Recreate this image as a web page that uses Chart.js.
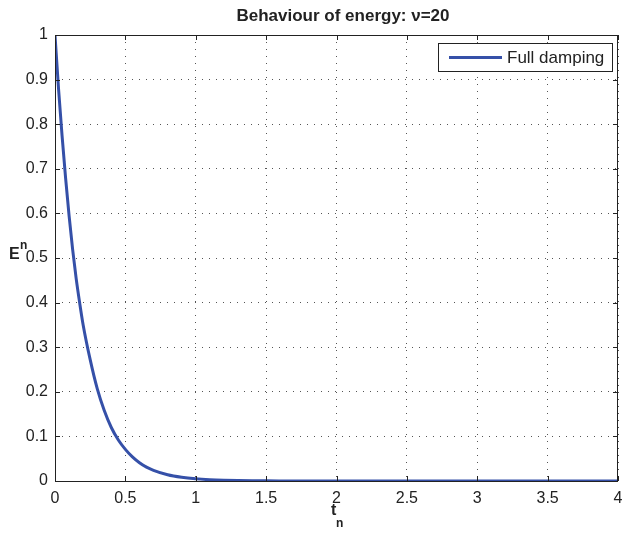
<!DOCTYPE html>
<html>
<head>
<meta charset="utf-8">
<script src="https://cdn.jsdelivr.net/npm/chart.js@4/dist/chart.umd.min.js"></script>
<style>
  body { margin: 0; background: #fff; }
  #chart { display: block; }
</style>
</head>
<body>
<canvas id="chart" width="622" height="533"></canvas>
<script>
// time t_n and energy E^n
const tValues = [0, 0.025, 0.05, 0.075, 0.1, 0.125, 0.15, 0.175, 0.2, 0.25,
    0.3, 0.35, 0.4, 0.45, 0.5, 0.55, 0.6, 0.65, 0.7, 0.8,
    0.9, 1.0, 1.1, 1.2, 1.3, 1.4, 1.5, 1.6, 1.8, 2.0,
    2.5, 3.0, 3.5, 4.0];
const energyValues = [1, 0.88, 0.775, 0.68, 0.595, 0.52, 0.455, 0.4, 0.35, 0.272,
    0.207, 0.158, 0.12, 0.092, 0.071, 0.054, 0.041, 0.031, 0.024, 0.014,
    0.0083, 0.0049, 0.0029, 0.0017, 0.001, 0.0006, 0.00035, 0.0002, 0.0001, 0,
    0, 0, 0, 0];
const seriesLabel = "Full damping";
const xTicks = [0, 0.5, 1, 1.5, 2, 2.5, 3, 3.5, 4];
const yTicks = [0, 0.1, 0.2, 0.3, 0.4, 0.5, 0.6, 0.7, 0.8, 0.9, 1];
const titleText = "Behaviour of energy: \u03bd=20";

const FONT = "'Liberation Sans', Arial, Helvetica, sans-serif";
const lineColor = "#3550a8";

// MATLAB-like extras: box, inward ticks, labels with sub/superscript, legend
const decorations = {
    id: "decorations",
    afterDraw(chart) {
        const ctx = chart.ctx;
        const a = chart.chartArea;
        const xs = chart.scales.x, ys = chart.scales.y;
        ctx.save();
        ctx.strokeStyle = "#222";
        ctx.lineWidth = 1;
        ctx.strokeRect(Math.round(a.left) + 0.5, Math.round(a.top) + 0.5,
            Math.round(a.right - a.left) - 1, Math.round(a.bottom - a.top));

        // inward ticks
        ctx.beginPath();
        xTicks.forEach(v => {
            const x = Math.round(xs.getPixelForValue(v)) + 0.5;
            ctx.moveTo(x, a.bottom); ctx.lineTo(x, a.bottom - 5);
            ctx.moveTo(x, a.top); ctx.lineTo(x, a.top + 5);
        });
        yTicks.forEach(v => {
            const y = Math.round(ys.getPixelForValue(v)) + 0.5;
            ctx.moveTo(a.left, y); ctx.lineTo(a.left + 5, y);
            ctx.moveTo(a.right, y); ctx.lineTo(a.right - 5, y);
        });
        ctx.stroke();

        // title
        ctx.fillStyle = "#222";
        ctx.font = "bold 17px " + FONT;
        ctx.textAlign = "center";
        ctx.textBaseline = "alphabetic";
        ctx.fillText(titleText, 343, 21);

        // x label t_n
        ctx.font = "bold 16px " + FONT;
        ctx.textAlign = "left";
        ctx.fillText("t", 331, 515);
        ctx.font = "bold 12px " + FONT;
        ctx.fillText("n", 336, 527);

        // y label E^n
        ctx.font = "bold 16px " + FONT;
        ctx.fillText("E", 9, 259);
        ctx.font = "bold 12px " + FONT;
        ctx.fillText("n", 20, 249);

        // legend
        const lx = 438, ly = 43, lw = 174, lh = 28;
        ctx.fillStyle = "#fff";
        ctx.fillRect(lx, ly, lw, lh);
        ctx.strokeStyle = "#222";
        ctx.lineWidth = 1;
        ctx.strokeRect(lx + 0.5, ly + 0.5, lw, lh);
        ctx.strokeStyle = lineColor;
        ctx.lineWidth = 3;
        ctx.beginPath();
        ctx.moveTo(449, ly + 14.5); ctx.lineTo(502, ly + 14.5);
        ctx.stroke();
        ctx.fillStyle = "#222";
        ctx.font = "17px " + FONT;
        ctx.textBaseline = "middle";
        ctx.fillText(chart.data.datasets[0].label, 507, ly + 15);
        ctx.restore();
    }
};

const ctx = document.getElementById("chart").getContext("2d");
new Chart(ctx, {
    type: "line",
    data: {
        datasets: [{
            label: seriesLabel,
            data: tValues.map((t, i) => ({ x: t, y: energyValues[i] })),
            borderColor: lineColor,
            borderWidth: 3,
            pointRadius: 0,
            cubicInterpolationMode: "monotone",
            fill: false,
        }],
    },
    options: {
        responsive: false,
        animation: false,
        layout: { padding: { top: 35, right: 4, left: 0, bottom: 0 } },
        scales: {
            x: {
                type: "linear",
                min: 0,
                max: 4,
                afterBuildTicks: s => { s.ticks = xTicks.map(v => ({ value: v })); },
                afterFit: s => { s.height = 52; s.paddingRight = 0; s.paddingLeft = 0; },
                ticks: {
                    color: "#222",
                    font: { family: FONT, size: 16 },
                    padding: 8,
                    maxRotation: 0,
                    callback: v => String(v),
                },
                grid: {
                    color: "#555",
                    borderDash: [1, 6],
                    drawTicks: false,
                },
                border: { display: false, dash: [1, 6] },
            },
            y: {
                min: 0,
                max: 1,
                afterBuildTicks: s => { s.ticks = yTicks.map(v => ({ value: v })); },
                afterFit: s => { s.width = 55; },
                ticks: {
                    color: "#222",
                    font: { family: FONT, size: 16 },
                    padding: 7,
                    callback: v => String(v),
                },
                grid: {
                    color: "#555",
                    borderDash: [1, 6],
                    drawTicks: false,
                },
                border: { display: false, dash: [1, 6] },
            },
        },
        plugins: {
            legend: { display: false },
            title: { display: false },
            tooltip: { enabled: false },
        },
    },
    plugins: [decorations],
});
</script>
</body>
</html>
